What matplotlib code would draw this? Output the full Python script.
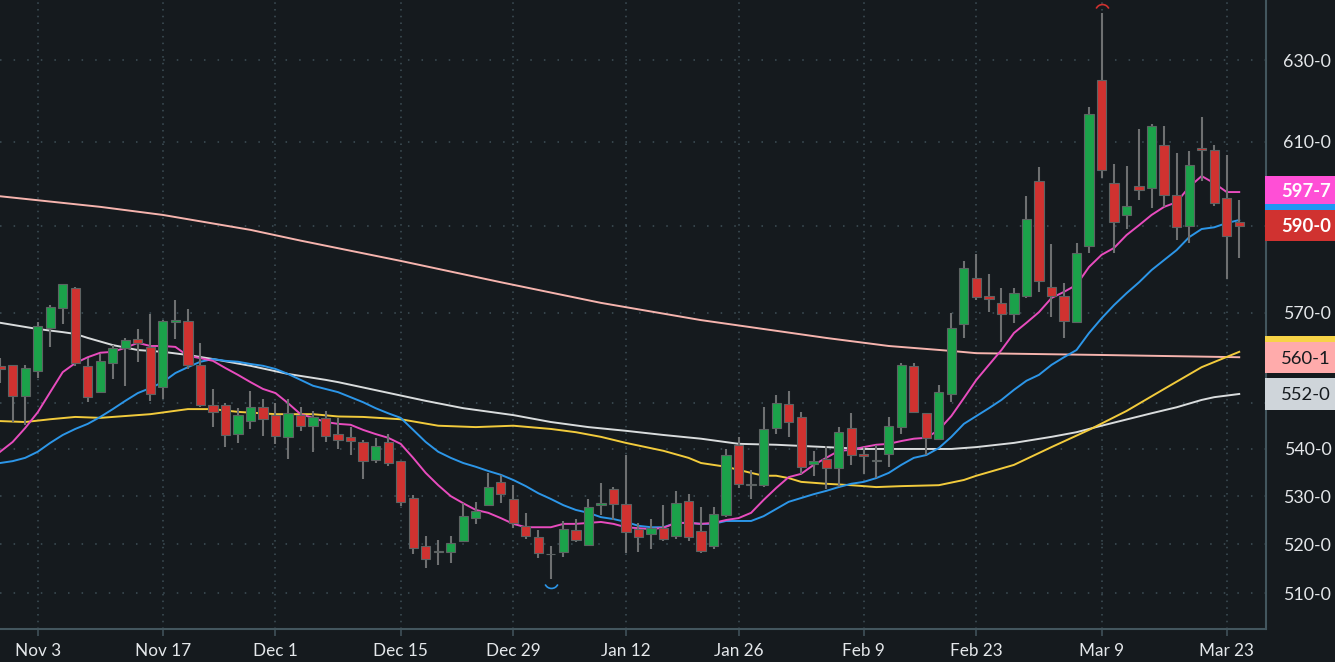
import matplotlib
matplotlib.use("Agg")
import matplotlib.pyplot as plt
from matplotlib.patches import Rectangle
from matplotlib.path import Path
from matplotlib.transforms import ScaledTranslation
from matplotlib.ticker import NullLocator

BG = "#151a1e"; GRID = "#3f5058"; AXIS = "#43565e"; TXT = "#e4e7ea"
GREEN = "#1ba24a"; RED = "#d03230"; WICK = "#6e7071"; NEUTRAL = "#6e7071"

# candles: high, body top, body bottom, low, direction (1 up, -1 down, 0 unchanged)
high = [559.8,558.3,558.3,567.9,571.7,576.5,575.8,559.8,560.7,562.7,564.3,566.3,569.7,568.3,572.8,570.8,563.2,553.0,549.9,548.8,
        552.6,550.8,549.9,550.8,549.1,548.2,548.2,546.7,544.7,541.9,542.4,543.2,537.4,530.2,521.7,520.8,521.7,528.5,528.8,534.9,
        534.5,532.3,526.5,522.9,519.6,524.8,525.2,529.4,532.8,531.9,538.7,524.4,525.2,528.1,531.1,530.4,527.7,527.7,540.0,542.6,
        535.5,549.0,551.7,552.6,548.0,539.6,540.6,544.7,547.7,540.4,540.9,546.9,558.7,558.7,547.7,553.9,569.9,581.8,583.4,578.8,
        575.6,575.6,596.9,603.9,585.7,576.7,585.9,618.4,641.9,604.6,604.1,613.0,614.3,613.8,607.2,607.7,616.0,609.2,606.8,596.0]
body_top = [558.1,558.3,557.6,567.0,571.3,576.5,575.6,558.1,559.2,562.1,563.8,564.1,562.3,568.1,568.3,568.1,558.3,549.5,549.5,547.3,
            549.1,549.1,547.3,547.8,547.3,546.9,546.7,543.2,542.6,541.5,540.6,541.5,537.4,529.6,519.6,518.6,520.2,525.8,526.9,531.9,
            533.0,529.4,523.8,521.5,518.0,523.1,522.9,527.7,528.5,531.5,528.3,523.1,523.3,523.3,528.5,529.0,522.7,526.3,538.7,540.9,
            532.6,544.3,549.9,549.7,546.9,537.4,537.9,543.6,544.5,538.9,537.7,545.0,558.3,558.1,547.7,552.3,566.5,580.1,577.9,573.8,
            572.2,574.4,591.5,600.5,575.8,573.8,583.6,616.7,625.1,600.0,594.6,599.3,613.8,609.2,597.2,604.3,608.4,608.0,596.5,590.8]
body_bot = [557.3,551.4,551.4,557.0,566.5,571.0,558.7,551.2,552.3,558.7,562.1,563.2,551.9,553.4,567.9,558.3,549.5,548.0,543.0,543.2,
            546.0,546.4,542.8,542.6,545.0,545.0,542.8,541.9,541.7,537.4,537.7,537.0,528.8,519.2,516.9,518.4,518.4,520.6,525.4,528.1,
            530.4,524.4,521.7,518.2,517.9,518.4,520.8,519.8,528.1,528.3,522.5,521.5,522.1,521.0,521.7,521.5,518.6,519.6,526.0,532.6,
            532.4,532.3,544.5,545.8,536.2,536.8,536.0,536.0,538.7,538.5,537.4,538.9,544.7,548.0,542.4,542.2,551.9,567.4,573.5,573.1,
            569.7,569.7,573.8,577.2,573.8,568.1,567.9,585.3,603.1,590.8,592.5,598.4,598.8,597.2,589.7,589.9,608.0,595.3,587.6,589.9]
low = [554.3,545.8,545.2,555.4,562.3,567.4,558.1,550.1,552.1,555.2,553.7,559.0,550.4,550.8,564.1,557.4,549.1,544.7,540.4,541.3,
       544.3,542.8,541.1,537.9,543.9,539.4,541.5,540.0,538.7,533.6,537.0,536.4,527.9,518.0,515.1,515.7,516.1,520.4,524.2,528.1,
       528.5,523.3,521.0,517.1,512.9,517.3,520.4,519.6,526.0,525.0,518.2,518.4,519.0,520.6,521.0,520.6,518.2,519.0,525.6,531.7,
       529.4,531.9,543.2,542.6,534.7,534.3,531.5,531.9,536.6,534.7,533.8,536.2,543.2,547.7,538.7,541.9,550.1,564.3,572.8,570.1,
       563.4,567.7,573.3,574.7,569.0,564.3,567.9,583.6,601.2,583.6,589.2,596.0,594.1,594.4,586.6,585.9,600.5,594.6,577.6,582.5]
direction = [-1,-1,1,1,1,1,-1,-1,1,1,1,-1,-1,1,1,-1,-1,-1,-1,1,
             1,-1,-1,1,-1,1,-1,-1,-1,-1,1,-1,-1,-1,-1,-1,1,1,1,1,
             -1,-1,-1,-1,0,1,-1,1,1,-1,-1,-1,1,-1,1,-1,-1,1,1,-1,
             0,1,1,-1,-1,1,-1,1,-1,-1,1,1,1,-1,-1,1,1,1,-1,-1,
             -1,1,1,-1,-1,-1,1,1,-1,-1,1,-1,1,-1,-1,1,-1,-1,-1,-1]

# moving averages
ma_pink = [539.4,541.5,544.5,547.9,552.3,556.7,558.7,560.0,561.0,561.2,562.1,563.2,562.5,562.5,562.3,560.3,559.8,559.2,557.6,556.1,
           554.5,553.0,552.1,549.9,547.5,546.7,545.8,545.4,545.2,544.1,543.2,542.4,541.1,538.1,534.9,532.3,530.0,528.5,527.1,526.5,
           525.4,524.2,523.5,523.5,523.5,524.2,524.2,524.4,524.6,524.2,523.5,523.3,523.1,523.4,524.4,524.4,524.2,524.4,525.0,525.4,
           526.5,529.2,531.7,534.0,534.7,536.6,538.1,539.6,539.8,540.4,540.9,541.1,541.7,542.2,542.4,544.1,547.1,551.0,555.0,558.3,
           561.6,565.4,567.7,570.1,573.3,574.7,576.3,580.4,583.2,584.8,587.8,590.1,592.5,594.4,595.5,599.1,601.7,600.0,597.9,597.9]
ma_blue = [537.0,537.4,538.1,539.4,541.3,543.0,544.3,545.4,546.9,548.6,550.4,552.1,553.2,554.5,556.5,557.8,559.0,559.6,559.2,559.0,
           558.5,558.1,557.4,556.3,555.0,553.7,553.0,552.3,551.2,550.1,548.8,547.7,546.7,544.1,541.5,539.4,538.1,537.0,536.2,535.3,
           534.5,533.4,532.1,530.6,529.4,528.1,527.1,526.5,525.6,525.2,524.6,523.8,523.5,523.5,524.4,524.4,524.2,524.2,524.8,524.8,
           524.8,525.8,527.3,528.8,529.6,530.4,531.1,531.9,532.6,533.0,533.8,534.9,536.6,538.1,538.7,540.2,542.6,545.4,547.1,548.8,
           550.6,552.8,554.8,556.1,558.3,560.0,561.6,565.4,568.7,571.7,574.4,576.9,579.7,582.0,584.3,587.3,589.2,589.6,590.6,591.3]
yellow_idx = [0,2,4,6,8,10,12,15,17,19,22,25,27,29,32,35,38,41,44,46,48,50,53,55,56,58,60,61,62,63,64,66,68,70,72,75,77,78,81,84,87,90,93,96,99]
ma_yellow = [546.0,545.8,546.4,546.9,546.7,547.1,547.5,548.6,548.6,548.0,547.5,547.5,547.0,546.9,546.4,545.0,544.7,545.0,544.3,543.6,
             542.6,541.3,539.6,538.1,537.0,536.2,534.9,534.3,534.3,533.8,533.0,532.6,532.3,531.9,532.1,532.3,533.4,534.3,536.6,540.4,
             544.1,548.2,553.0,557.8,561.2]
white_idx = [0,3,5,6,7,9,11,13,15,17,20,23,26,27,34,37,41,44,47,50,53,56,59,62,66,69,73,76,78,81,84,86,88,92,94,96,97,99]
ma_white = [567.7,566.3,565.6,565.2,564.3,562.7,561.6,561.2,560.5,559.6,558.1,556.3,555.0,554.5,550.4,548.8,547.3,545.8,544.7,543.9,
            543.0,542.2,541.1,540.9,540.4,540.0,540.0,540.0,540.4,541.3,542.6,543.6,545.0,547.7,549.0,550.6,551.2,551.9]
salmon_idx = [0,8,13,20,24,32,40,48,56,62,66,71,76,78,88,99]
ma_salmon = [596.9,594.4,592.5,589.0,586.5,581.8,576.9,572.2,568.3,565.9,564.3,562.5,561.4,560.9,560.5,560.0]

# axes labels
x_tick_idx = [3,13,22,32,41,50,59,69,78,88,98]
x_tick_labels = ["Nov 3","Nov 17","Dec 1","Dec 15","Dec 29","Jan 12","Jan 26","Feb 9","Feb 23","Mar 9","Mar 23"]
grid_prices = [510,520,530,540,550,570,590,610,630]
y_tick_prices = [510,520,530,540,570,610,630]
y_tick_labels = ["510-0","520-0","530-0","540-0","570-0","610-0","630-0"]

W, H = 1335, 662
plt.rcParams["font.family"] = ["Lato", "DejaVu Sans"]
fig = plt.figure(figsize=(W/100, H/100), dpi=100, facecolor=BG)
ax = fig.add_axes([0, 33/H, 1266/W, 629/H], facecolor=BG)
ax.set_yscale("log")
ax.set_xlim(-0.012, 101.14)
ax.set_ylim(502.8, 645.2)

ax.yaxis.set_minor_locator(NullLocator())
ax.yaxis.set_minor_formatter(plt.NullFormatter())
ax.yaxis.tick_right()
ax.set_yticks(y_tick_prices)
ax.set_yticklabels(y_tick_labels, ha="right", color=TXT, fontsize=12.8)
ax.tick_params(axis="y", length=0, pad=47)
ax.set_xticks(x_tick_idx)
ax.set_xticklabels(x_tick_labels, color=TXT, fontsize=12.3)
ax.tick_params(axis="x", length=5, width=1.1, color=AXIS, pad=5)

for s in ["top", "left"]:
    ax.spines[s].set_visible(False)
for s in ["right", "bottom"]:
    ax.spines[s].set_color(AXIS)
    ax.spines[s].set_linewidth(1.5)

for p in grid_prices:
    ax.axhline(p, color=GRID, lw=1.1, ls=(0, (1, 7.9)), zorder=1)
for i in x_tick_idx:
    ax.axvline(i, color=GRID, lw=1.1, ls=(0, (1, 3.4)), zorder=1)

xs = list(range(len(high)))
LW = 1.4
ax.plot(salmon_idx, ma_salmon, color="#f6b4ae", lw=LW, zorder=2)
ax.plot(white_idx, ma_white, color="#d9dcdd", lw=LW, zorder=2)
ax.plot(yellow_idx, ma_yellow, color="#f2cb3c", lw=LW, zorder=2)
ax.plot(xs, ma_blue, color="#2c96e8", lw=LW, zorder=2)
ax.plot(xs, ma_pink, color="#e84cbe", lw=LW, zorder=2)

colors = {1: GREEN, -1: RED, 0: NEUTRAL}
ax.vlines(xs, low, high, color=WICK, lw=1.5, zorder=3)
ax.bar(xs, [t - b for t, b in zip(body_top, body_bot)], bottom=body_bot, width=0.74,
       color=[colors[d] for d in direction], edgecolor="#5d6363", linewidth=0.8, zorder=4)

# session extreme arcs
arc = Path.arc(25, 155)
arc_low = Path.arc(205, 335)
up = ax.transData + ScaledTranslation(0, 2/100, fig.dpi_scale_trans)
down = ax.transData + ScaledTranslation(0, -2/100, fig.dpi_scale_trans)
hi_i = high.index(max(high)); lo_i = low.index(min(low))
ax.plot([hi_i], [high[hi_i]], marker=arc, ms=10, mfc="none", mec=RED, mew=1.2, transform=up, clip_on=False, zorder=5)
ax.plot([lo_i], [low[lo_i]], marker=arc_low, ms=10, mfc="none", mec="#2c96e8", mew=1.2, transform=down, clip_on=False, zorder=5)

# last-value tags in the price scale
def tag(top, bottom, color, label=None, fg="white", weight="medium"):
    fig.patches.append(Rectangle((1265/W, 1-bottom/H), 70/W, (bottom-top)/H, transform=fig.transFigure,
                                 facecolor=color, edgecolor="none", zorder=5))
    if label:
        fig.text(1331/W, 1-(top+bottom)/2/H, label, ha="right", va="center_baseline", color=fg,
                 fontsize=13.3, fontweight=weight, zorder=6)

tag(204, 210, "#2196f3")
tag(176, 204, "#ff4fd6", "597-7", "white", "bold")
tag(210, 241, "#d03230", "590-0", "white", "bold")
tag(336, 342, "#f7d347")
tag(342, 373, "#ffabab", "560-1", "#151a1e", "normal")
tag(378, 410, "#cfd5da", "552-0", "#151a1e", "normal")

fig.savefig("out.png", dpi=100, facecolor=BG)
